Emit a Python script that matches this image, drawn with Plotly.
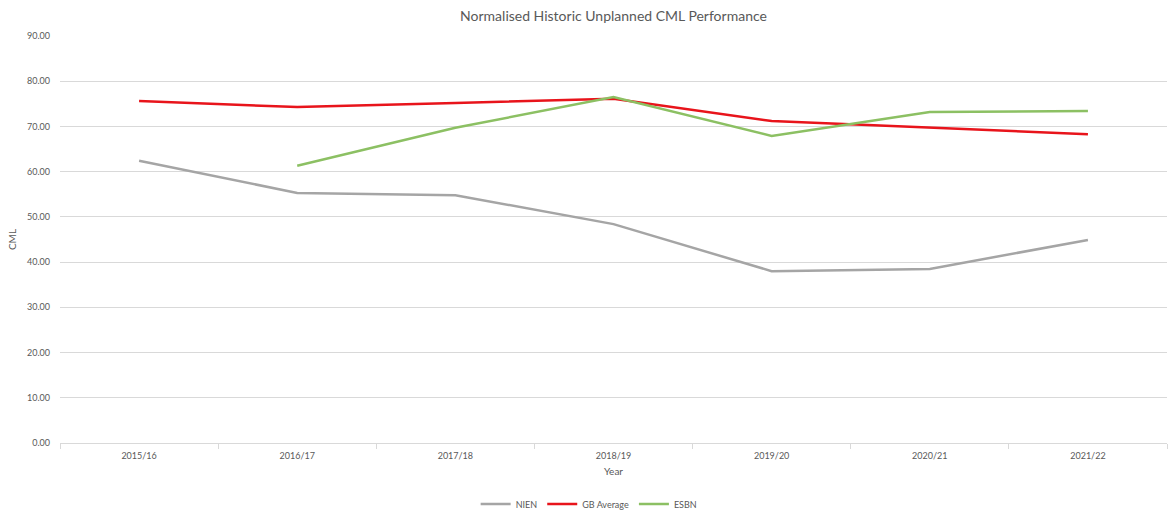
import plotly.graph_objects as go

years = ["2015/16", "2016/17", "2017/18", "2018/19", "2019/20", "2020/21", "2021/22"]
nien = [62.4, 55.3, 54.8, 48.4, 38.0, 38.5, 44.9]
gb_average = [75.6, 74.3, 75.2, 76.1, 71.2, 69.7, 68.3]
esbn = [None, 61.3, 69.7, 76.5, 67.9, 73.2, 73.4]

font = "Lato, 'Open Sans', sans-serif"
fig = go.Figure()
fig.add_trace(go.Scatter(x=years, y=nien, name="NIEN", mode="lines",
                         line=dict(color="#A5A5A5", width=2.5)))
fig.add_trace(go.Scatter(x=years, y=gb_average, name="GB Average", mode="lines",
                         line=dict(color="#E8141B", width=2.5)))
fig.add_trace(go.Scatter(x=years, y=esbn, name="ESBN", mode="lines",
                         line=dict(color="#8CC063", width=2.5)))

fig.update_layout(
    width=1174, height=517,
    paper_bgcolor="white", plot_bgcolor="white",
    margin=dict(l=60, r=7, t=36, b=74, autoexpand=False),
    font=dict(family=font, color="#595959", size=9),
    title=dict(text="Normalised Historic Unplanned CML Performance", x=0.5, xanchor="center",
               xref="paper",
               y=1 - 16 / 517, yanchor="middle", font=dict(size=14, color="#595959", family=font)),
    showlegend=True,
    legend=dict(orientation="h", x=0.478, xanchor="center", y=-0.15, yanchor="middle",
                font=dict(size=9, color="#595959"), itemwidth=30),
    xaxis=dict(type="category", range=[-0.5, 6.5], showgrid=False, showline=True,
               linecolor="#D9D9D9", linewidth=1, ticks="outside", tickson="boundaries",
               ticklen=5, tickcolor="#D9D9D9", tickfont=dict(size=9, color="#595959"),
               ticklabelstandoff=4,
               title=dict(text="Year", font=dict(size=10, color="#595959"), standoff=8)),
    yaxis=dict(range=[0, 90], dtick=10, tickformat=".2f", showgrid=True, gridcolor="#D9D9D9",
               gridwidth=1, zeroline=False, showline=False, ticks="",
               ticklabelstandoff=9,
               tickfont=dict(size=9, color="#595959"),
               title=dict(text="CML", font=dict(size=10, color="#595959"), standoff=8)),
)

fig.write_html("out.html")
